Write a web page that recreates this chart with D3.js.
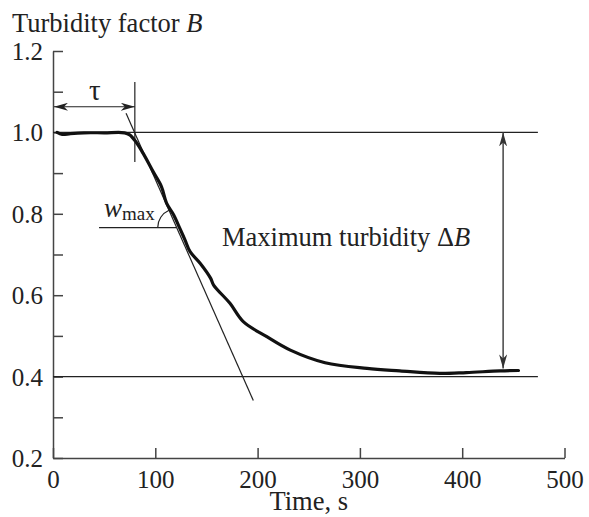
<!DOCTYPE html>
<html>
<head>
<meta charset="utf-8">
<script src="https://cdn.jsdelivr.net/npm/d3@7"></script>
<style>
  body { margin: 0; background: #fff; }
  text { font-family: "Liberation Serif", "Times New Roman", serif; fill: #222; }
</style>
</head>
<body>
<svg width="589" height="517"></svg>
<script>
// turbidity curve (time s, factor B)
var time = [4, 9, 17, 30, 50, 70, 75, 81, 88, 98, 106, 111, 118, 124, 129, 134, 144, 154, 157, 173, 186, 209, 232, 266, 307, 339, 378, 404, 437, 455];
var turb = [1.0, 0.995, 0.997, 0.999, 0.999, 0.999, 0.994, 0.977, 0.949, 0.903, 0.867, 0.826, 0.797, 0.764, 0.736, 0.707, 0.678, 0.642, 0.625, 0.58, 0.535, 0.498, 0.465, 0.434, 0.42, 0.414, 0.408, 0.41, 0.414, 0.415];

var xTicks = [0, 100, 200, 300, 400, 500];
var yTicks = [0.2, 0.3, 0.4, 0.5, 0.6, 0.7, 0.8, 0.9, 1.0, 1.1, 1.2];
var yLabels = [0.2, 0.4, 0.6, 0.8, 1.0, 1.2];

// annotation values
var tau = 80;
var levels = [1.0, 0.4];
var levelEnd = 474;
var tangent = [[71.4, 1.047], [195.8, 0.341]];
var wLevel = 0.766, wStart = 45;
var deltaT = 440, deltaTop = 1.0, deltaBot = 0.415;

var svg = d3.select("svg");

var x = d3.scaleLinear().domain([0, 500]).range([53, 564.5]);
var y = d3.scaleLinear().domain([0.2, 1.2]).range([458, 51]);

var defs = svg.append("defs");
defs.append("marker").attr("id", "tip")
    .attr("viewBox", "0 0 14 8").attr("refX", 14).attr("refY", 4)
    .attr("markerWidth", 14).attr("markerHeight", 8)
    .attr("markerUnits", "userSpaceOnUse").attr("orient", "auto-start-reverse")
  .append("path").attr("d", "M0,0 L14,4 L0,8 L4,4 Z").attr("fill", "#222");
defs.append("marker").attr("id", "tipg")
    .attr("viewBox", "0 0 14 8").attr("refX", 14).attr("refY", 4)
    .attr("markerWidth", 14).attr("markerHeight", 8)
    .attr("markerUnits", "userSpaceOnUse").attr("orient", "auto-start-reverse")
  .append("path").attr("d", "M0,0 L14,4 L0,8 L4,4 Z").attr("fill", "#333");

// axes
var xAxis = svg.append("g")
    .attr("transform", "translate(0," + y(0.2) + ")")
    .call(d3.axisBottom(x).tickValues(xTicks).tickSizeInner(-10).tickSizeOuter(0).tickPadding(12));
var yAxis = svg.append("g")
    .attr("transform", "translate(" + x(0) + ",0)")
    .call(d3.axisLeft(y).tickValues(yTicks).tickSizeInner(-10).tickSizeOuter(0).tickPadding(10)
      .tickFormat(function(d) {
        return yLabels.some(function(v) { return Math.abs(v - d) < 1e-6; }) ? d3.format(".1f")(d) : "";
      }));
svg.selectAll(".domain, .tick line").attr("stroke", "#444").attr("stroke-width", 1.5);
svg.selectAll(".tick text").style("font-size", "25px").attr("fill", "#222")
    .style("font-family", "'Liberation Serif', serif");
yAxis.selectAll(".tick text").attr("dy", "0.34em");

// reference levels 1.0 and 0.4
svg.selectAll(".level").data(levels).enter().append("line")
    .attr("x1", x(0)).attr("x2", x(levelEnd))
    .attr("y1", function(d) { return y(d); }).attr("y2", function(d) { return y(d); })
    .attr("stroke", "#222").attr("stroke-width", 1.3);

// tau
svg.append("line").attr("x1", x(tau)).attr("x2", x(tau))
    .attr("y1", y(1.124)).attr("y2", y(0.927)).attr("stroke", "#222").attr("stroke-width", 1.2);
svg.append("line").attr("x1", x(0) + 1).attr("x2", x(tau))
    .attr("y1", y(1.063)).attr("y2", y(1.063))
    .attr("stroke", "#222").attr("stroke-width", 1.2)
    .attr("marker-start", "url(#tip)").attr("marker-end", "url(#tip)");
svg.append("text").attr("x", x(41)).attr("y", y(1.08))
    .attr("text-anchor", "middle").style("font-size", "29px").text("τ");

// tangent
svg.append("line").attr("x1", x(tangent[0][0])).attr("y1", y(tangent[0][1]))
    .attr("x2", x(tangent[1][0])).attr("y2", y(tangent[1][1]))
    .attr("stroke", "#222").attr("stroke-width", 1.2);

// w_max level and angle arc
var frac = (tangent[0][1] - wLevel) / (tangent[0][1] - tangent[1][1]);
var tHit = tangent[0][0] + frac * (tangent[1][0] - tangent[0][0]);
var cx = x(tHit), cy = y(wLevel);
svg.append("line").attr("x1", x(wStart)).attr("x2", cx)
    .attr("y1", cy).attr("y2", cy).attr("stroke", "#222").attr("stroke-width", 1.2);
var dx = x(tangent[0][0]) - cx, dy = y(tangent[0][1]) - cy;
var len = Math.sqrt(dx * dx + dy * dy), r = 19;
svg.append("path")
    .attr("d", "M" + (cx - r) + "," + cy + " A" + r + "," + r + " 0 0 1 " + (cx + dx / len * r) + "," + (cy + dy / len * r))
    .attr("fill", "none").attr("stroke", "#222").attr("stroke-width", 1.2);
var wl = svg.append("text").attr("x", 104).attr("y", 217).style("font-size", "27px");
wl.append("tspan").style("font-style", "italic").text("w");
wl.append("tspan").attr("dy", 3).style("font-size", "19px").text("max");

// curve
var line = d3.line().x(function(d, i) { return x(time[i]); }).y(function(d) { return y(d); })
    .curve(d3.curveCatmullRom.alpha(0.5));
svg.append("path").datum(turb).attr("d", line)
    .attr("fill", "none").attr("stroke", "#111").attr("stroke-width", 3.2)
    .attr("stroke-linejoin", "round").attr("stroke-linecap", "round");

// delta B arrow
svg.append("line").attr("x1", x(deltaT)).attr("x2", x(deltaT))
    .attr("y1", y(deltaTop)).attr("y2", y(deltaBot) - 2)
    .attr("stroke", "#444").attr("stroke-width", 1.5)
    .attr("marker-start", "url(#tipg)").attr("marker-end", "url(#tipg)");
var mt = svg.append("text").attr("x", 222).attr("y", 246).style("font-size", "26.5px");
mt.append("tspan").text("Maximum turbidity Δ");
mt.append("tspan").style("font-style", "italic").text("B");

// titles
var yt = svg.append("text").attr("x", 12).attr("y", 32).style("font-size", "26.5px");
yt.append("tspan").text("Turbidity factor ");
yt.append("tspan").style("font-style", "italic").text("B");
svg.append("text").attr("x", (x(0) + x(500)) / 2).attr("y", 510)
    .attr("text-anchor", "middle").style("font-size", "26.5px").text("Time, s");
</script>
</body>
</html>
